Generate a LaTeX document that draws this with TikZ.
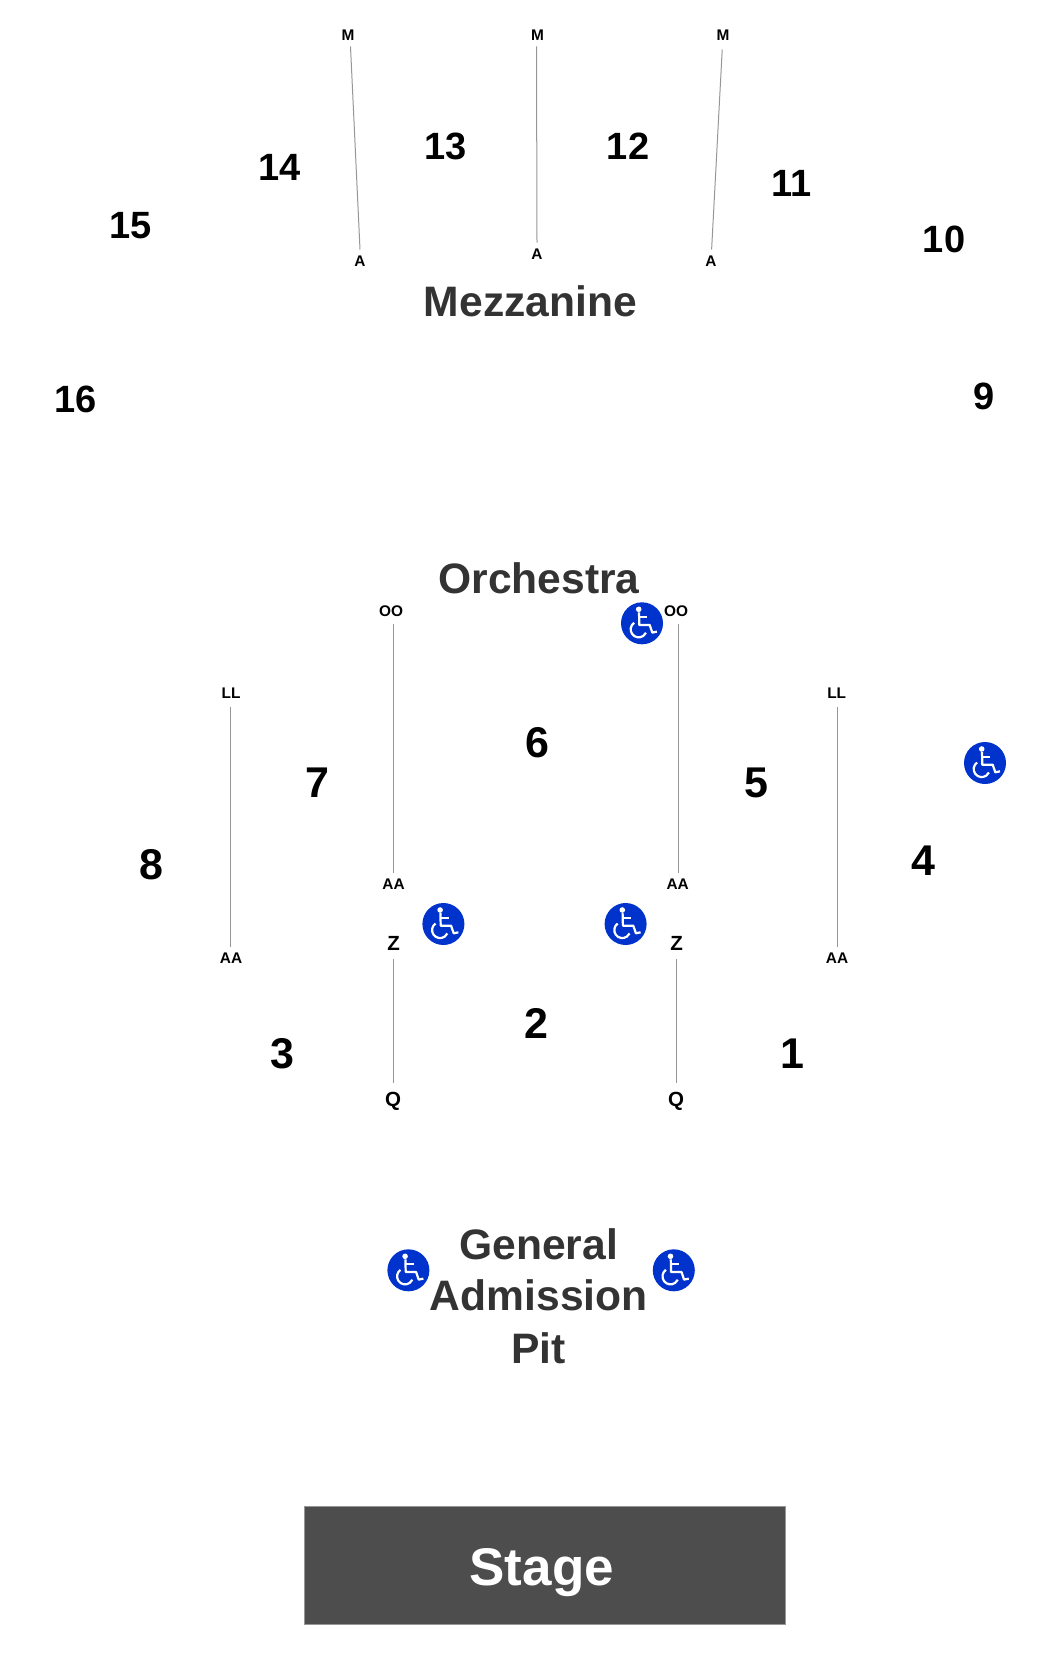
\documentclass[tikz,border=0pt]{standalone}
\usepackage{fontspec}
\setmainfont{Liberation Sans}
\definecolor{chairblue}{HTML}{0033CC}
\definecolor{headgray}{HTML}{333333}
\definecolor{rowgray}{HTML}{969696}
\definecolor{stagegray}{HTML}{4D4D4D}
\usetikzlibrary{positioning}

\begin{document}
\begin{tikzpicture}
          [x=1pt, y=-1pt,
          mez/.style = {font=\fontsize{38}{38}\selectfont\bfseries, inner sep=0pt},
          orc/.style = {font=\fontsize{43}{43}\selectfont\bfseries, inner sep=0pt},
          head/.style = {font=\fontsize{42.6}{51}\selectfont\bfseries, text=headgray, inner sep=0pt, align=center},
          row/.style = {font=\fontsize{15.4}{15.4}\selectfont\bfseries, inner sep=6pt, text depth=0pt},
          rowbig/.style = {font=\fontsize{20.5}{20.5}\selectfont\bfseries, inner sep=9pt, text depth=0pt},
          aisle/.style = {draw=rowgray, line width=1pt},
          chair/.style = {circle, fill=chairblue, minimum size=42pt, inner sep=0pt},
          wheel/.pic = {
            \fill[white] (-3.3,-14) circle [radius=2.8pt];
            \draw[white, line width=2.2pt, line join=round] (-3,-11) -- (-2.7,1.7) -- (7.7,1.7) -- (10.3,9.3) -- (15,8.3);
            \draw[white, line width=2.2pt] (-2.3,-6) -- (5.3,-6);
            \draw[white, line width=2.2pt] (-7.9,-0.5) arc [start angle=125, end angle=335, radius=8pt];
          }]
          \useasboundingbox (0,0) rectangle (1050,1654);

          \node[mez] (s16) at (76,399) {16};
          \node[mez] (s15) at (131,226) {15};
          \node[mez] (s14) at (280,167.5) {14};
          \node[mez] (s13) at (446,146) {13};
          \node[mez] (s12) at (628,146) {12};
          \node[mez] (s11) at (791.5,183.4) {11};
          \node[mez] (s10) at (944,239) {10};
          \node[mez] (s9) at (984,396) {9};
          \node[head] (mezz) at (530.5,301.5) {Mezzanine};

          \node[row] (m1) at (348,35) {M};
          \node[row] (a1) at (360,261) {A};
          \node[row] (m2) at (537.5,35) {M};
          \node[row] (a2) at (537,254) {A};
          \node[row] (m3) at (723,35) {M};
          \node[row] (a3) at (711,261) {A};
          \draw[aisle] ([xshift=2.5pt]m1.south) -- (a1.north);
          \draw[aisle] ([xshift=-1pt]m2.south) -- (a2.north);
          \draw[aisle, shorten <=3pt] (m3) -- (a3);

          \node[head] (orch) at (539,578.6) {Orchestra};
          \node[orc] (s6) at (537.5,743) {6};
          \node[orc] (s7) at (317.5,783) {7};
          \node[orc] (s5) at (756,783) {5};
          \node[orc] (s8) at (151,865) {8};
          \node[orc] (s4) at (923.5,861) {4};
          \node[orc] (s3) at (282.5,1054) {3};
          \node[orc] (s2) at (536,1023) {2};
          \node[orc] (s1) at (792,1054) {1};

          \node[row] (ll1) at (231,693) {LL};
          \node[row] (aa1) at (231,958) {AA};
          \node[row] (oo1) at (391,611) {OO};
          \node[row] (aa2) at (393.5,884) {AA};
          \node[row] (oo2) at (676,611) {OO};
          \node[row] (aa3) at (677.7,884) {AA};
          \node[row] (ll2) at (836.7,693) {LL};
          \node[row] (aa4) at (837,958) {AA};
          \node[rowbig] (z1) at (393.7,943) {Z};
          \node[rowbig] (q1) at (393,1099.5) {Q};
          \node[rowbig] (z2) at (676.7,943) {Z};
          \node[rowbig] (q2) at (676,1099.5) {Q};
          \draw[aisle, shorten <=2pt] ([xshift=-.4pt]ll1.south) -- ([xshift=-.4pt]aa1.north);
          \draw[aisle, shorten <=1pt] ([xshift=2.5pt]oo1.south) -- (aa2.north);
          \draw[aisle, shorten <=1pt] ([xshift=2.3pt]oo2.south) -- ([xshift=.6pt]aa3.north);
          \draw[aisle, shorten <=2pt] ([xshift=1.2pt]ll2.south) -- ([xshift=.9pt]aa4.north);
          \draw[aisle] (z1.south) -- ([xshift=.7pt]q1.north);
          \draw[aisle] (z2.south) -- ([xshift=.7pt]q2.north);

          \node[chair] (c1) at (642,623.3) {};
          \node[chair] (c2) at (985,763) {};
          \node[chair] (c3) at (443.4,924) {};
          \node[chair] (c4) at (625.6,924) {};
          \node[chair] (c5) at (408.4,1270.3) {};
          \node[chair] (c6) at (673.8,1270.3) {};
          \pic at (c1) {wheel};
          \pic at (c2) {wheel};
          \pic at (c3) {wheel};
          \pic at (c4) {wheel};
          \pic at (c5) {wheel};
          \pic at (c6) {wheel};

          \node[head] (pit) at (538.7,1296.5) {General\\[-.5pt]Admission\\[2.5pt]Pit};

          \node[fill=stagegray, draw=rowgray, line width=.6pt, minimum width=481pt, minimum height=118pt, inner sep=0pt] (stagebox) at (544.5,1565) {};
          \node[font=\fontsize{53}{53}\selectfont\bfseries, text=white, inner sep=0pt, anchor=base] (stage) at (541.8,1585) {Stage};
\end{tikzpicture}
\end{document}
